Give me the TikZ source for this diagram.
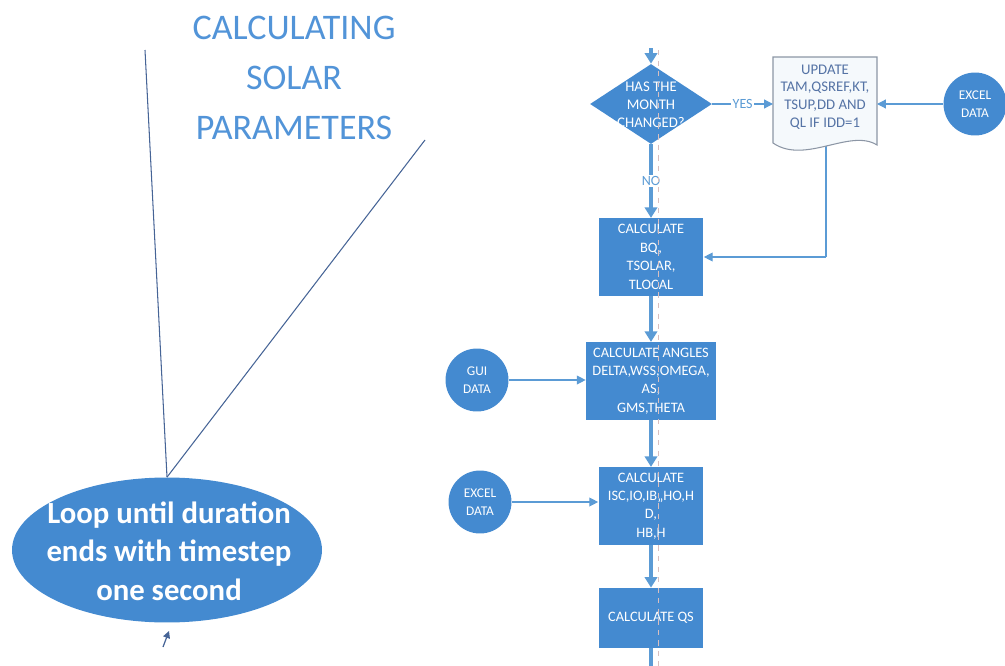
\documentclass[tikz,border=0pt]{standalone}
\usepackage{fontspec}
\setmainfont{Carlito}
\usetikzlibrary{shapes.geometric, arrows.meta}
\definecolor{flowblue}{RGB}{68,138,208}
\definecolor{lineblue}{RGB}{91,155,213}
\definecolor{titleblue}{RGB}{82,148,216}
\definecolor{docgray}{RGB}{140,150,165}
\definecolor{doctext}{RGB}{85,115,165}
\definecolor{thinline}{RGB}{70,100,150}
\tikzset{
  procbox/.style={rectangle, fill=flowblue, text=white, minimum width=2.1cm, minimum height=1.55cm, align=center, font=\fontsize{8.2}{10.5}\selectfont, inner sep=1pt},
  datacirc/.style={circle, fill=flowblue, text=white, minimum size=1.26cm, align=center, font=\fontsize{7.6}{10}\selectfont, inner sep=0pt},
  mainflow/.style={lineblue, line width=1.8pt, -{Triangle[length=6pt,width=7pt]}},
  sideflow/.style={lineblue, line width=0.7pt, -{Triangle[length=5pt,width=5pt]}},
  flowlabel/.style={fill=white, text=lineblue, inner sep=1pt, font=\fontsize{8}{9}\selectfont},
}
\begin{document}
\begin{tikzpicture}[x=0.02cm, y=-0.02cm]
    \useasboundingbox (0,0) rectangle (1005,666);

    \node[text=titleblue, align=center, font=\fontsize{20.5}{28.5}\selectfont] (title) at (294,78) {CALCULATING\\SOLAR\\PARAMETERS};
    \node[ellipse, fill=flowblue, minimum width=6.2cm, minimum height=2.9cm, inner sep=0pt] (loop) at (167,550) {};
    \node[text=white, align=center, font=\fontsize{17.5}{21.8}\selectfont\bfseries] (looptext) at (169,551) {Loop until duration\\ends with timestep\\one second};

    \coordinate (L1) at (145,50);
    \coordinate (L2) at (425,140);
    \coordinate (T1) at (163,647);
    \coordinate (T2) at (169,631);
    \draw[thinline, line width=0.6pt] (L1) -- (loop.north);
    \draw[thinline, line width=0.6pt] (L2) -- (loop.north);
    \draw[thinline, line width=0.7pt, -{Triangle[length=4pt,width=4pt]}] (T1) -- (T2);

    \node[diamond, fill=flowblue, minimum width=2.44cm, minimum height=1.6cm, inner sep=0pt] (month) at (651,104) {};
    \node[text=white, align=center, font=\fontsize{8.4}{10.2}\selectfont] (monthtext) at (651,105) {HAS THE\\MONTH\\CHANGED?};

    \coordinate (docW) at (773,104);
    \coordinate (docE) at (877,104);
    \coordinate (docS) at (826,146);
    \coordinate (bend) at (826,257);
    \draw[lineblue, line width=0.7pt] (docS) -- (bend);
    \draw[docgray, line width=0.6pt, fill=lineblue!6] (773,57) -- (877,57) -- (877,145) .. controls (850,128) and (805,165) .. (773,143) -- cycle;
    \node[text=doctext, align=center, font=\fontsize{8.4}{10}\selectfont] (update) at (825,97) {UPDATE\\TAM,QSREF,KT,\\TSUP,DD AND\\QL IF IDD=1};

    \node[datacirc] (excelA) at (975,104) {EXCEL\\DATA};
    \node[datacirc] (gui) at (477,380) {GUI\\DATA};
    \node[datacirc] (excelB) at (480,502) {EXCEL\\DATA};

    \node[procbox] (bq) at (651,257) {CALCULATE\\BQ,\\TSOLAR,\\TLOCAL};
    \node[procbox, minimum width=2.6cm] (angles) at (651,381) {CALCULATE ANGLES\\DELTA,WSS,OMEGA,\\AS,\\GMS,THETA};
    \node[procbox] (isc) at (651,506) {CALCULATE\\ISC,IO,IB,,HO,H\\D,\\HB,H};
    \node[procbox, minimum height=1.2cm] (qs) at (651,618) {CALCULATE QS};

    \coordinate (top) at (651,48);
    \coordinate (bottom) at (651,666);
    \draw[mainflow] (top) -- (month.north);
    \draw[mainflow] (month.south) -- node[flowlabel] {NO} (bq.north);
    \draw[mainflow] (bq.south) -- (angles.north);
    \draw[mainflow] (angles.south) -- (isc.north);
    \draw[mainflow] (isc.south) -- (qs.north);
    \draw[lineblue, line width=1.8pt] (qs.south) -- (bottom);

    \draw[sideflow] (month.east) -- node[flowlabel] {YES} (docW);
    \draw[sideflow] (excelA.west) -- (docE);
    \draw[sideflow] (bend) -- (bend -| bq.east);
    \draw[sideflow] (gui.east) -- (gui.east -| angles.west);
    \draw[sideflow] (excelB.east) -- (excelB.east -| isc.west);

    \draw[red!25!gray!40, line width=0.5pt, dashed] (658,50) -- (658,666);
\end{tikzpicture}
\end{document}
